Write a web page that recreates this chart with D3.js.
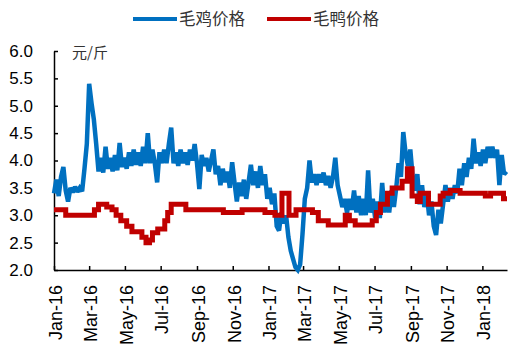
<!DOCTYPE html>
<html>
<head>
<meta charset="utf-8">
<script src="https://cdn.jsdelivr.net/npm/d3@7"></script>
<style>
  body { margin: 0; background: #fff; }
  svg { display: block; }
</style>
</head>
<body>
<div id="chart"></div>
<script>
// series names
const seriesNames = ["毛鸡价格", "毛鸭价格"];
const unitLabel = "元/斤";
const yTicks = [2.0, 2.5, 3.0, 3.5, 4.0, 4.5, 5.0, 5.5, 6.0];

// chicken price, one reading every 4 days from 2016-01-01
const chickenStart = "2016-01-01";
const chickenStepDays = 4;
const chickenPrices = [
  3.40, 3.65, 3.35, 3.70, 3.88, 3.45, 3.25, 3.50, 3.42, 3.52,
  3.43, 3.50, 3.44, 3.85, 4.30, 5.40, 5.05, 4.75, 4.30, 3.80,
  4.05, 3.78, 4.25, 3.85, 4.05, 3.80, 4.10, 3.82, 4.32, 3.88,
  4.05, 3.85, 4.15, 3.90, 4.20, 3.92, 4.15, 3.90, 4.25, 3.95,
  4.50, 3.95, 4.20, 3.95, 3.60, 4.15, 3.95, 4.20, 3.95, 4.30,
  4.60, 3.95, 4.15, 3.90, 4.20, 3.95, 4.15, 3.92, 4.20, 4.00,
  4.30, 3.95, 3.48, 4.10, 3.90, 4.05, 3.80, 4.00, 4.20, 3.75,
  3.90, 3.55, 3.85, 3.60, 3.80, 3.50, 3.97, 3.60, 3.25, 3.60,
  3.35, 3.65, 3.30, 3.60, 3.92, 3.55, 3.80, 3.50, 3.90, 3.55,
  3.75, 3.30, 3.50, 3.20, 3.40, 2.80, 2.72, 3.05, 2.85, 3.00,
  2.60, 2.35, 2.20, 2.05, 2.00, 2.10, 2.65, 3.30, 3.50, 4.00,
  3.60, 3.75, 3.55, 3.75, 3.60, 3.78, 3.55, 3.72, 3.50, 3.70,
  4.05, 3.55, 3.35, 3.15, 3.30, 3.05, 3.30, 3.10, 3.45, 3.05,
  3.35, 3.00, 3.30, 3.00, 3.82, 3.05, 3.30, 2.95, 3.25, 2.95,
  3.59, 3.05, 3.35, 3.05, 3.45, 3.15, 3.50, 3.95, 3.70, 4.52,
  4.13, 3.90, 4.20, 3.70, 3.45, 3.75, 3.20, 3.55, 3.15, 3.40,
  3.00, 3.25, 2.80, 2.64, 3.10, 2.85, 3.20, 3.55, 3.25, 3.50,
  3.30, 3.55, 3.40, 3.85, 3.55, 3.95, 3.70, 4.05, 3.85, 4.40,
  3.95, 4.15, 3.90, 4.20, 3.95, 4.25, 4.05, 4.25, 4.05, 4.20,
  3.55, 4.10, 3.75, 3.80
];

// duck price, changes at these dates (held until next date)
const duckDates = [
  "2016-01-01", "2016-01-21", "2016-03-10", "2016-03-17", "2016-03-31",
  "2016-04-09", "2016-04-16", "2016-04-24", "2016-05-04", "2016-05-13",
  "2016-05-30", "2016-06-06", "2016-06-12", "2016-06-17", "2016-06-26",
  "2016-07-08", "2016-07-13", "2016-07-19", "2016-08-13", "2016-10-16",
  "2016-11-17", "2016-12-26", "2017-01-12", "2017-01-24", "2017-02-05",
  "2017-02-17", "2017-03-17", "2017-03-27", "2017-04-13", "2017-05-12",
  "2017-05-19", "2017-05-29", "2017-06-27", "2017-07-04", "2017-07-11",
  "2017-07-23", "2017-07-31", "2017-08-17", "2017-08-26", "2017-09-03",
  "2017-09-12", "2017-09-17", "2017-10-01", "2017-10-21", "2017-10-26",
  "2017-11-07", "2017-11-24", "2018-01-06", "2018-01-15", "2018-02-06",
  "2018-02-12"
];
const duckPrices = [
  3.10, 3.00, 3.10, 3.20, 3.15,
  3.10, 3.00, 2.90, 2.80, 2.70,
  2.60, 2.50, 2.55, 2.68, 2.75,
  2.90, 3.05, 3.20, 3.10, 3.05,
  3.10, 3.05, 3.00, 3.40, 3.00,
  3.10, 3.05, 2.90, 2.82, 3.00,
  2.90, 2.82, 2.90, 3.05, 3.20,
  3.40, 3.50, 3.62, 3.85, 3.35,
  3.25, 3.40, 3.20, 3.35, 3.40,
  3.45, 3.40, 3.35, 3.40, 3.30,
  3.30
];

const colors = ["#0070C0", "#C00000"];
const width = 520, height = 351;
const margin = {top: 51, right: 13, bottom: 81, left: 54};

const parse = d3.timeParse("%Y-%m-%d");
const startDate = parse(chickenStart);
const chicken = chickenPrices.map((v, i) => ({date: d3.timeDay.offset(startDate, i * chickenStepDays), value: v}));
const duck = duckDates.map((d, i) => ({date: parse(d), value: duckPrices[i]}));

const svg = d3.select("#chart").append("svg")
  .attr("width", width)
  .attr("height", height);

const x = d3.scaleTime()
  .domain([startDate, parse("2018-02-12")])
  .range([margin.left, width - margin.right]);

const y = d3.scaleLinear()
  .domain([2, 6])
  .range([height - margin.bottom, margin.top]);

// axes
const xAxis = d3.axisBottom(x)
  .ticks(d3.timeMonth.every(2))
  .tickFormat(d3.timeFormat("%b-%y"))
  .tickSizeInner(-4)
  .tickSizeOuter(0);

const yAxis = d3.axisLeft(y)
  .tickValues(yTicks)
  .tickFormat(d3.format(".1f"))
  .tickSizeInner(-4)
  .tickSizeOuter(0)
  .tickPadding(21);

const gx = svg.append("g")
  .attr("transform", "translate(0," + (height - margin.bottom) + ")")
  .call(xAxis);

gx.selectAll("text")
  .attr("font-family", "Liberation Sans, Arial, sans-serif")
  .attr("font-size", 18)
  .attr("fill", "#000")
  .attr("text-anchor", "end")
  .attr("dy", "0.35em")
  .attr("transform", "translate(1,15) rotate(-90)")
  .attr("x", 0)
  .attr("y", 0);

const gy = svg.append("g")
  .attr("transform", "translate(" + margin.left + ",0)")
  .call(yAxis);

gy.selectAll("text")
  .attr("font-family", "Liberation Sans, Arial, sans-serif")
  .attr("font-size", 17)
  .attr("fill", "#000");

svg.selectAll(".domain, .tick line")
  .attr("stroke", "#000")
  .attr("stroke-width", 1.5);

// lines
const chickenLine = d3.line()
  .x(d => x(d.date))
  .y(d => y(d.value));

const duckLine = d3.line()
  .curve(d3.curveStepAfter)
  .x(d => x(d.date))
  .y(d => y(d.value));

svg.append("path")
  .datum(chicken)
  .attr("fill", "none")
  .attr("stroke", colors[0])
  .attr("stroke-width", 4.5)
  .attr("stroke-linejoin", "miter")
  .attr("stroke-miterlimit", 2)
  .attr("d", chickenLine);

svg.append("path")
  .datum(duck)
  .attr("fill", "none")
  .attr("stroke", colors[1])
  .attr("stroke-width", 5)
  .attr("d", duckLine);

// unit label
svg.append("text")
  .attr("x", 72)
  .attr("y", 58)
  .attr("font-family", "Noto Sans CJK SC, sans-serif")
  .attr("font-size", 15)
  .attr("fill", "#333")
  .text(unitLabel);

// legend
const legendX = [133, 267];
const legend = svg.selectAll(".legend")
  .data(seriesNames)
  .enter().append("g")
  .attr("class", "legend")
  .attr("transform", (d, i) => "translate(" + legendX[i] + ",19)");

legend.append("line")
  .attr("x1", 0).attr("x2", 44)
  .attr("y1", 0).attr("y2", 0)
  .attr("stroke", (d, i) => colors[i])
  .attr("stroke-width", 4);

legend.append("text")
  .attr("x", 46)
  .attr("y", 0)
  .attr("dy", "0.36em")
  .attr("font-family", "Noto Sans CJK SC, sans-serif")
  .attr("font-size", 16.5)
  .attr("fill", "#333")
  .text(d => d);
</script>
</body>
</html>
